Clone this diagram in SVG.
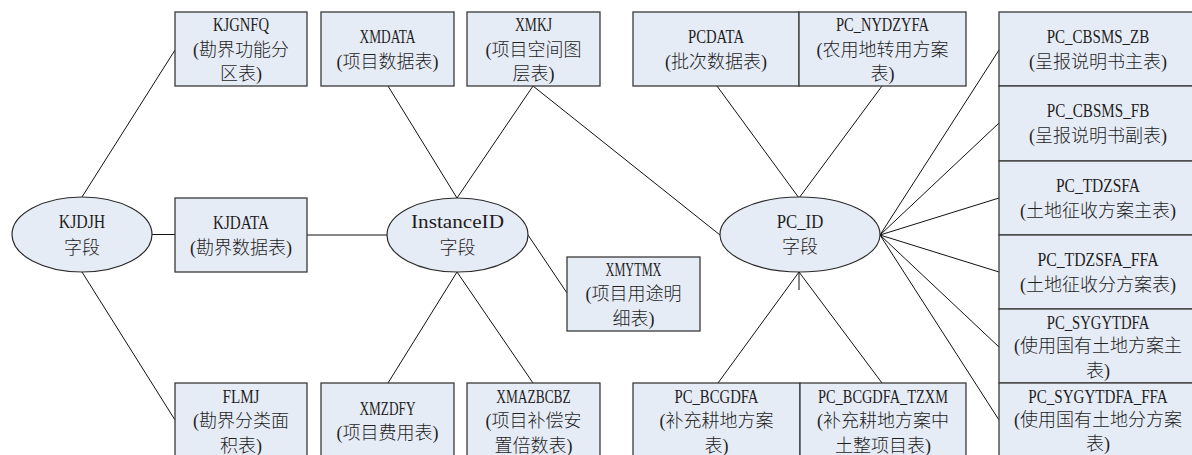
<svg xmlns="http://www.w3.org/2000/svg" width="1192" height="455" viewBox="0 0 1192 455">
<style>
.box{fill:#e6ecf6;stroke:#3a3a3a;stroke-width:1.3}
.ell{fill:#e6ecf6;stroke:#2a2a2a;stroke-width:1.2}
.ln{stroke:#111;stroke-width:1;fill:none}
text{font-size:18px;fill:#1e1e1e;text-anchor:middle;dominant-baseline:central}
.la{font-family:"Liberation Serif",serif}
.zh{font-family:"Liberation Serif","Noto Sans CJK SC",sans-serif;font-weight:300}
</style>
<rect width="1192" height="455" fill="#ffffff"/>
<g id="connectors">
<line class="ln" x1="82" y1="197" x2="175" y2="50"/>
<line class="ln" x1="152" y1="234.5" x2="175" y2="234.5"/>
<line class="ln" x1="82" y1="272" x2="175" y2="420"/>
<line class="ln" x1="307" y1="235" x2="387" y2="235"/>
<line class="ln" x1="388" y1="86" x2="457" y2="198"/>
<line class="ln" x1="533" y1="86" x2="457" y2="198"/>
<line class="ln" x1="533" y1="86" x2="720" y2="235"/>
<line class="ln" x1="528" y1="235" x2="567" y2="293"/>
<line class="ln" x1="457" y1="272" x2="388" y2="383"/>
<line class="ln" x1="457" y1="272" x2="533" y2="383"/>
<line class="ln" x1="717" y1="86" x2="799" y2="198"/>
<line class="ln" x1="882" y1="86" x2="799" y2="198"/>
<line class="ln" x1="880" y1="235" x2="999" y2="50"/>
<line class="ln" x1="880" y1="235" x2="999" y2="123"/>
<line class="ln" x1="880" y1="235" x2="999" y2="198"/>
<line class="ln" x1="880" y1="235" x2="999" y2="272"/>
<line class="ln" x1="880" y1="235" x2="999" y2="347"/>
<line class="ln" x1="880" y1="235" x2="999" y2="420"/>
<line class="ln" x1="799" y1="272" x2="718" y2="383"/>
<line class="ln" x1="799" y1="272" x2="882" y2="383"/>
<line class="ln" x1="799" y1="272" x2="799" y2="290"/>
</g>
<g id="KJDJH">
<ellipse class="ell" cx="82" cy="234.5" rx="70" ry="37.5"/>
<text class="la" x="82" y="222" textLength="46.5" lengthAdjust="spacingAndGlyphs">KJDJH</text>
<text class="zh" x="82" y="247.5">字段</text>
</g>
<g id="InstanceID">
<ellipse class="ell" cx="457.5" cy="235" rx="70.5" ry="37"/>
<text class="la" x="457.5" y="222" textLength="93" lengthAdjust="spacingAndGlyphs">InstanceID</text>
<text class="zh" x="457.5" y="247.5">字段</text>
</g>
<g id="PC_ID">
<ellipse class="ell" cx="800" cy="234.5" rx="80" ry="37.5"/>
<text class="la" x="800" y="222" textLength="46.5" lengthAdjust="spacingAndGlyphs">PC_ID</text>
<text class="zh" x="800" y="247">字段</text>
</g>
<g id="KJGNFQ">
<rect class="box" x="175" y="12" width="132" height="74"/>
<text class="la" x="241" y="24.5" textLength="56" lengthAdjust="spacingAndGlyphs">KJGNFQ</text>
<text class="zh" x="241" y="49.5">(勘界功能分</text>
<text class="zh" x="241" y="74">区表)</text>
</g>
<g id="KJDATA">
<rect class="box" x="175" y="198" width="132" height="74"/>
<text class="la" x="241" y="222.5" textLength="56" lengthAdjust="spacingAndGlyphs">KJDATA</text>
<text class="zh" x="241" y="247.5">(勘界数据表)</text>
</g>
<g id="FLMJ">
<rect class="box" x="175" y="383" width="132" height="80"/>
<text class="la" x="241" y="396.5" textLength="37" lengthAdjust="spacingAndGlyphs">FLMJ</text>
<text class="zh" x="241" y="421">(勘界分类面</text>
<text class="zh" x="241" y="445.5">积表)</text>
</g>
<g id="XMDATA">
<rect class="box" x="321" y="12" width="133" height="74"/>
<text class="la" x="387.5" y="37" textLength="56" lengthAdjust="spacingAndGlyphs">XMDATA</text>
<text class="zh" x="387.5" y="62">(项目数据表)</text>
</g>
<g id="XMKJ">
<rect class="box" x="467" y="12" width="133" height="74"/>
<text class="la" x="533.5" y="24.5" textLength="37" lengthAdjust="spacingAndGlyphs">XMKJ</text>
<text class="zh" x="533.5" y="49.5">(项目空间图</text>
<text class="zh" x="533.5" y="74">层表)</text>
</g>
<g id="XMYTMX">
<rect class="box" x="567" y="257" width="133" height="74"/>
<text class="la" x="633.5" y="270" textLength="56" lengthAdjust="spacingAndGlyphs">XMYTMX</text>
<text class="zh" x="633.5" y="294">(项目用途明</text>
<text class="zh" x="633.5" y="318.5">细表)</text>
</g>
<g id="XMZDFY">
<rect class="box" x="321" y="383" width="133" height="80"/>
<text class="la" x="387.5" y="408.5" textLength="56" lengthAdjust="spacingAndGlyphs">XMZDFY</text>
<text class="zh" x="387.5" y="432.5">(项目费用表)</text>
</g>
<g id="XMAZBCBZ">
<rect class="box" x="467" y="383" width="133" height="80"/>
<text class="la" x="533.5" y="396.5" textLength="74.5" lengthAdjust="spacingAndGlyphs">XMAZBCBZ</text>
<text class="zh" x="533.5" y="421">(项目补偿安</text>
<text class="zh" x="533.5" y="445.5">置倍数表)</text>
</g>
<g id="PCDATA">
<rect class="box" x="633" y="12" width="166" height="74"/>
<text class="la" x="716" y="37" textLength="56" lengthAdjust="spacingAndGlyphs">PCDATA</text>
<text class="zh" x="716" y="62">(批次数据表)</text>
</g>
<g id="PC_NYDZYFA">
<rect class="box" x="799" y="12" width="167" height="74"/>
<text class="la" x="882.5" y="24.5" textLength="93" lengthAdjust="spacingAndGlyphs">PC_NYDZYFA</text>
<text class="zh" x="882.5" y="49.5">(农用地转用方案</text>
<text class="zh" x="882.5" y="74">表)</text>
</g>
<g id="PC_BCGDFA">
<rect class="box" x="633" y="383" width="167" height="80"/>
<text class="la" x="716.5" y="396.5" textLength="84" lengthAdjust="spacingAndGlyphs">PC_BCGDFA</text>
<text class="zh" x="716.5" y="421">(补充耕地方案</text>
<text class="zh" x="716.5" y="445.5">表)</text>
</g>
<g id="PC_BCGDFA_TZXM">
<rect class="box" x="800" y="383" width="166" height="80"/>
<text class="la" x="883" y="396.5" textLength="130" lengthAdjust="spacingAndGlyphs">PC_BCGDFA_TZXM</text>
<text class="zh" x="883" y="421">(补充耕地方案中</text>
<text class="zh" x="883" y="445.5">土整项目表)</text>
</g>
<g id="PC_CBSMS_ZB">
<rect class="box" x="999" y="12" width="198" height="74"/>
<text class="la" x="1098" y="37" textLength="102.5" lengthAdjust="spacingAndGlyphs">PC_CBSMS_ZB</text>
<text class="zh" x="1098" y="62">(呈报说明书主表)</text>
</g>
<g id="PC_CBSMS_FB">
<rect class="box" x="999" y="86" width="198" height="75"/>
<text class="la" x="1098" y="111" textLength="102.5" lengthAdjust="spacingAndGlyphs">PC_CBSMS_FB</text>
<text class="zh" x="1098" y="136">(呈报说明书副表)</text>
</g>
<g id="PC_TDZSFA">
<rect class="box" x="999" y="161" width="198" height="74"/>
<text class="la" x="1098" y="186" textLength="84" lengthAdjust="spacingAndGlyphs">PC_TDZSFA</text>
<text class="zh" x="1098" y="210.5">(土地征收方案主表)</text>
</g>
<g id="PC_TDZSFA_FFA">
<rect class="box" x="999" y="235" width="198" height="74"/>
<text class="la" x="1098" y="260" textLength="121" lengthAdjust="spacingAndGlyphs">PC_TDZSFA_FFA</text>
<text class="zh" x="1098" y="284.5">(土地征收分方案表)</text>
</g>
<g id="PC_SYGYTDFA">
<rect class="box" x="999" y="309" width="198" height="74"/>
<text class="la" x="1098" y="322.5" textLength="102.5" lengthAdjust="spacingAndGlyphs">PC_SYGYTDFA</text>
<text class="zh" x="1098" y="346">(使用国有土地方案主</text>
<text class="zh" x="1098" y="370.5">表)</text>
</g>
<g id="PC_SYGYTDFA_FFA">
<rect class="box" x="999" y="383" width="198" height="80"/>
<text class="la" x="1098" y="396.5" textLength="139.5" lengthAdjust="spacingAndGlyphs">PC_SYGYTDFA_FFA</text>
<text class="zh" x="1098" y="420">(使用国有土地分方案</text>
<text class="zh" x="1098" y="443.5">表)</text>
</g>
</svg>
